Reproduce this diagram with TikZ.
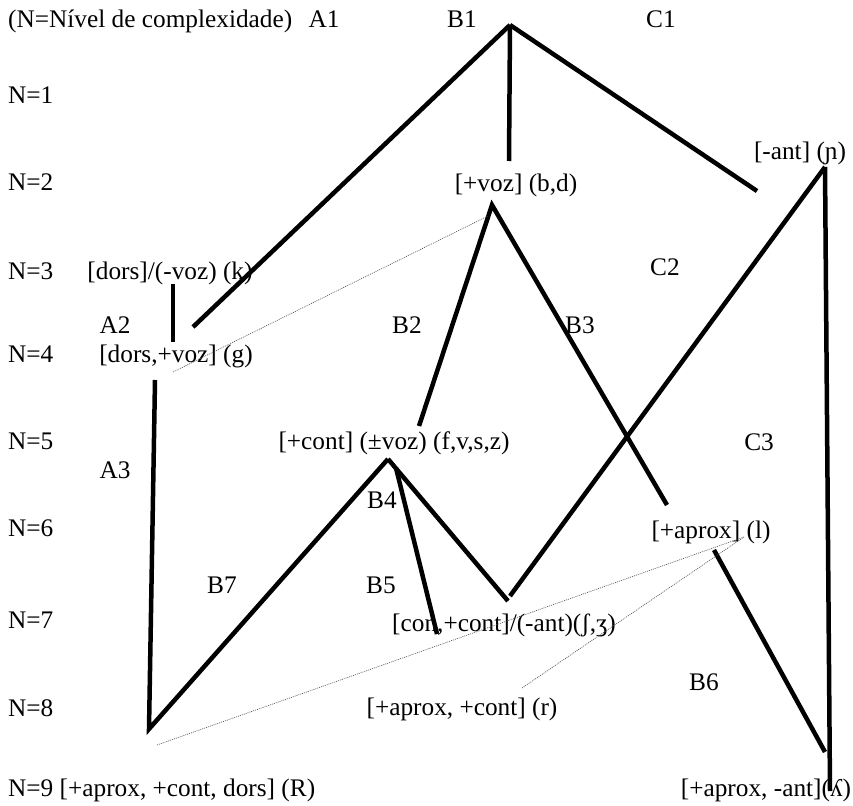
\documentclass[tikz,border=0pt]{standalone}
\usepackage{fontspec}
\setmainfont{Liberation Serif}
\usetikzlibrary{positioning}

\begin{document}
\begin{tikzpicture}[x=1pt,y=-1pt,
		every node/.style={font=\fontsize{25.3}{29}\selectfont, inner sep=0pt, anchor=base},
		ramo/.style={line width=4.5pt},
		liga/.style={line width=0.6pt, dash pattern=on 1pt off 1pt, black!70}]
				\useasboundingbox (0,0) rectangle (853,805);
				
				\node[anchor=base west] (titulo) at (8,28) {(N=Nível de complexidade)};
				\node (A1) at (324,28) {A1};
				\node (B1) at (462,28) {B1};
				\node (C1) at (661,28) {C1};
				
				\foreach \n/\y in {1/104,2/190,3/279,4/362,5/449,6/536,7/628,8/716}
					\node[anchor=base west] (nivel\n) at (8,\y) {N=\n};
				\node[anchor=base west] (nivel9) at (8,796) {N=9 [+aprox, +cont, dors] (R)};
				
				\node (k) at (170,279) {[dors]/(-voz) (k)};
				\node (A2) at (115,333) {A2};
				\node (g) at (176,362) {[dors,+voz] (g)};
				\node (bd) at (516,191) {[+voz] (b,d)};
				\node (nh) at (800,160) {[-ant] (ɲ)};
				\node (C2) at (665,275) {C2};
				\node (B2) at (407,333) {B2};
				\node (B3) at (580,333) {B3};
				\node (fvsz) at (394,449) {[+cont] (±voz) (f,v,s,z)};
				\node (C3) at (759,450) {C3};
				\node (A3) at (115,478) {A3};
				\node (B4) at (382,508) {B4};
				\node (l) at (711,538) {[+aprox] (l)};
				\node (B7) at (222,593) {B7};
				\node (B5) at (381,593) {B5};
				\node (sh) at (504,631) {[con,+cont]/(-ant)(ʃ,ʒ)};
				\node (B6) at (704,690) {B6};
				\node (r) at (462,715) {[+aprox, +cont] (r)};
				\node (lh) at (766,796) {[+aprox, -ant](ʎ)};
				
				\coordinate (topo) at (510,25);
				\coordinate (a2) at (193,327);
				\coordinate (bdtopo) at (509,161);
				\coordinate (c1) at (757,191);
				\coordinate (kbase) at (173,284);
				\coordinate (gtopo) at (173,342);
				\coordinate (gbase) at (155,380);
				\coordinate (fundo) at (149,729);
				\coordinate (b4) at (388,459);
				\coordinate (b5) at (396,468);
				\coordinate (shesq) at (437,634);
				\coordinate (shdir) at (508,601);
				\coordinate (shsobe) at (510,596);
				\coordinate (nhbase) at (825,167);
				\coordinate (bdbase) at (492,205);
				\coordinate (b2) at (419,426);
				\coordinate (ltopo) at (667,505);
				\coordinate (lbase) at (714,550);
				\coordinate (b6) at (825,752);
				\coordinate (lhbase) at (830,791);
				
				\draw[ramo] (topo) -- (a2);
				\draw[ramo] (topo) -- (bdtopo);
				\draw[ramo] (topo) -- (c1);
				\draw[ramo] (kbase) -- (gtopo);
				\draw[ramo] (gbase) -- (fundo) -- (b4);
				\draw[ramo] (b5) -- (shesq);
				\draw[ramo] (b4) -- (shdir);
				\draw[ramo] (shsobe) -- (nhbase);
				\draw[ramo] (nhbase) -- (lhbase);
				\draw[ramo] (b2) -- (bdbase) -- (ltopo);
				\draw[ramo] (lbase) -- (b6);
				
				\coordinate (gliga) at (173,372);
				\coordinate (bdliga) at (488,216);
				\coordinate (fundoliga) at (157,745);
				\coordinate (lliga) at (744,537);
				\coordinate (rliga) at (522,688);
				\draw[liga] (gliga) -- (bdliga);
				\draw[liga] (fundoliga) -- (lliga);
				\draw[liga] (rliga) -- (lliga);
			\end{tikzpicture}
\end{document}
